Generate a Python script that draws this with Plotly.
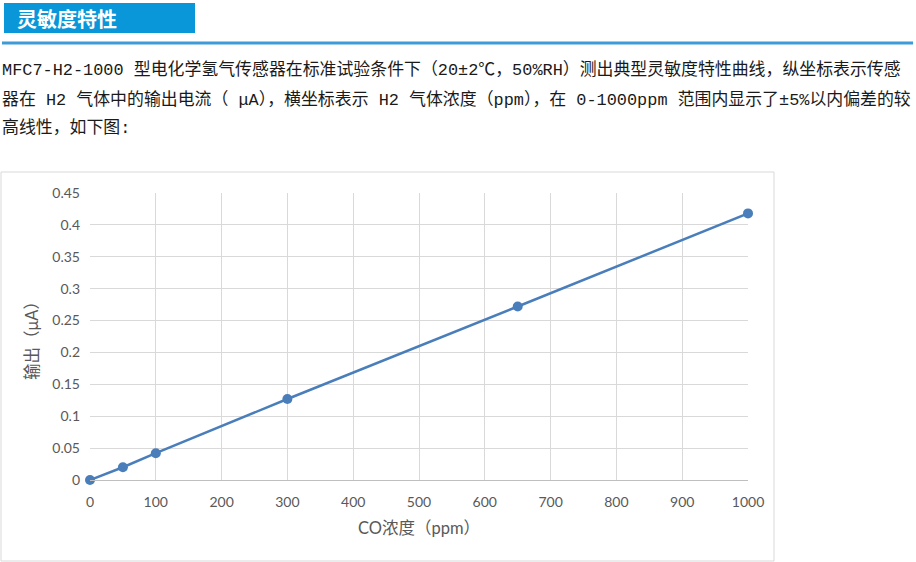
import plotly.graph_objects as go

# sensitivity curve data
conc_ppm = [0, 50, 100, 300, 650, 1000]
output_ua = [0, 0.02, 0.042, 0.127, 0.272, 0.418]

x_ticks = list(range(0, 1001, 100))
y_ticks = [0, 0.05, 0.1, 0.15, 0.2, 0.25, 0.3, 0.35, 0.4, 0.45]

header_text = "灵敏度特性"
para_lines = [
    "MFC7-H2-1000 型电化学氢气传感器在标准试验条件下（20±2℃，50%RH）测出典型灵敏度特性曲线，纵坐标表示传感",
    "器在 H2 气体中的输出电流（ μA），横坐标表示 H2 气体浓度（ppm），在 0-1000ppm 范围内显示了±5%以内偏差的较",
    "高线性，如下图:",
]
x_title = "CO浓度（ppm）"
y_title = "输出（μA）"

W, H = 916, 562


def px(x):
    return x / W


def py(y):
    return 1 - y / H


line_blue = "#4a7ebb"
grid = "#d9d9d9"
tick_font = dict(family="Lato, Noto Sans CJK SC", size=14, color="#595959")
title_font = dict(family="Lato, Noto Sans CJK SC", size=16.5, color="#595959")

fig = go.Figure()
fig.add_trace(go.Scatter(
    x=conc_ppm, y=output_ua,
    mode="lines+markers",
    line=dict(color=line_blue, width=2.5),
    marker=dict(color=line_blue, size=10),
    cliponaxis=False,
    showlegend=False,
))

fig.update_xaxes(
    domain=[px(90), px(748)],
    range=[0, 1000], tickvals=x_ticks,
    showgrid=True, gridcolor=grid, gridwidth=1,
    showline=True, linecolor="#bfbfbf", linewidth=1,
    zeroline=False, ticks="", tickfont=tick_font, ticklabelstandoff=9,
    title=dict(text=x_title, font=title_font, standoff=13),
    automargin=False,
)
fig.update_yaxes(
    domain=[py(480), py(193)],
    range=[0, 0.45], tickvals=y_ticks,
    showgrid=True, gridcolor=grid, gridwidth=1,
    zeroline=False, ticks="", tickfont=tick_font, ticklabelstandoff=9,
    title=dict(text=y_title, font=title_font, standoff=9),
    automargin=False,
)

# header bar, rule under it, chart frame
fig.add_shape(type="rect", xref="paper", yref="paper",
              x0=px(4), x1=px(195), y0=py(33), y1=py(3),
              fillcolor="#0a97d9", line=dict(width=0), layer="below")
fig.add_shape(type="line", xref="paper", yref="paper",
              x0=px(2), x1=px(913), y0=py(43), y1=py(43),
              line=dict(color="#3d9bd8", width=3))
fig.add_shape(type="rect", xref="paper", yref="paper",
              x0=px(1), x1=px(774), y0=py(561), y1=py(172),
              line=dict(color=grid, width=1), layer="below")

fig.add_annotation(xref="paper", yref="paper", x=px(15), y=py(18),
                   xanchor="left", yanchor="middle", showarrow=False,
                   text="<b>" + header_text + "</b>",
                   font=dict(family="Noto Sans CJK SC", size=20, color="white"))

for txt, yc in zip(para_lines, [70, 100, 128]):
    fig.add_annotation(xref="paper", yref="paper", x=px(0), y=py(yc),
                       xanchor="left", yanchor="middle", showarrow=False,
                       text=txt,
                       font=dict(family="Liberation Mono, Noto Sans CJK SC", size=16.9, color="#1a1a1a"))

fig.update_layout(
    width=W, height=H,
    margin=dict(l=0, r=0, t=0, b=0),
    paper_bgcolor="white", plot_bgcolor="white",
)

fig.write_html("out.html", config={"displayModeBar": False},
               post_script="document.body.style.margin='0';")
